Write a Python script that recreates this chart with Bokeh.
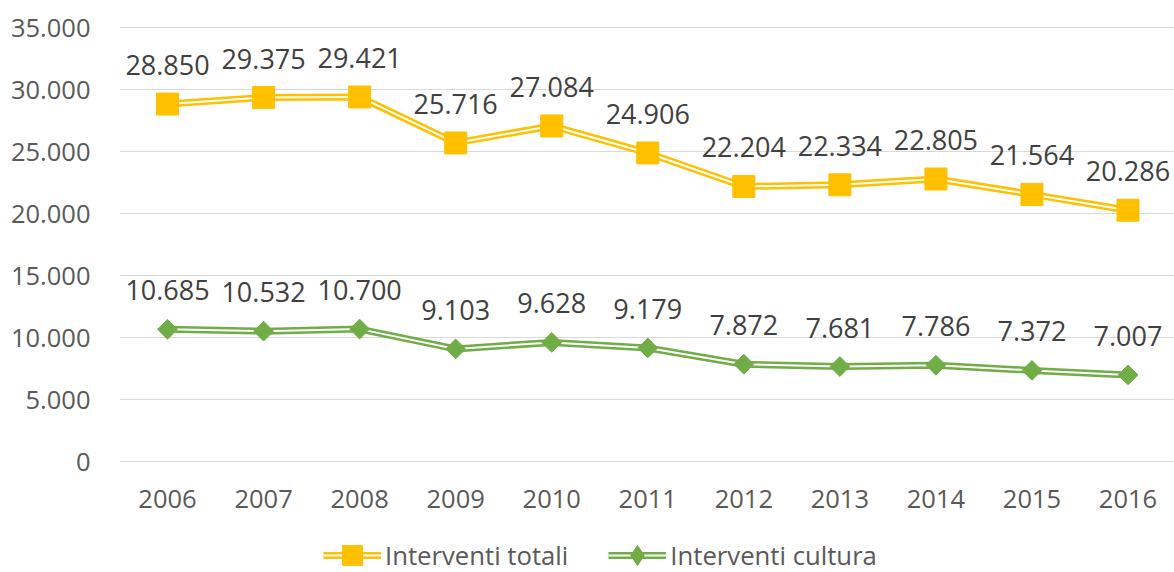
from bokeh.plotting import figure
from bokeh.models import ColumnDataSource, Legend, LegendItem, FixedTicker
from bokeh.core.properties import value
from bokeh.embed import file_html
from bokeh.resources import INLINE

years = [2006, 2007, 2008, 2009, 2010, 2011, 2012, 2013, 2014, 2015, 2016]
totali = [28850, 29375, 29421, 25716, 27084, 24906, 22204, 22334, 22805, 21564, 20286]
cultura = [10685, 10532, 10700, 9103, 9628, 9179, 7872, 7681, 7786, 7372, 7007]
y_ticks = [0, 5000, 10000, 15000, 20000, 25000, 30000, 35000]
name_totali = "Interventi totali"
name_cultura = "Interventi cultura"

def fmt(v):
    return f"{v:,}".replace(",", ".")

FONT = "Open Sans"
TICK_COLOR = "#595959"
LABEL_COLOR = "#404040"
YELLOW = "#FFC000"
GREEN = "#70AD47"

p = figure(frame_width=1055, frame_height=555, output_backend="svg", toolbar_location=None,
           x_range=(2005.5, 2016.484), y_range=(-8928, 35830),
           min_border_left=119, min_border_right=0, min_border_top=17, min_border_bottom=0)
p.outline_line_color = None
p.background_fill_color = "white"
p.border_fill_color = "white"

p.xgrid.grid_line_color = None
p.ygrid.grid_line_color = "#D9D9D9"
p.ygrid.grid_line_width = 1
p.ygrid.ticker = FixedTicker(ticks=y_ticks)

p.yaxis.ticker = FixedTicker(ticks=y_ticks)
p.yaxis.major_label_overrides = {t: fmt(t) for t in y_ticks}
p.xaxis.ticker = FixedTicker(ticks=years)
p.xaxis.major_label_overrides = {y: str(y) for y in years}
p.xaxis.fixed_location = -702
for ax in (p.xaxis, p.yaxis):
    ax.axis_line_color = None
    ax.major_tick_line_color = None
    ax.minor_tick_line_color = None
    ax.major_tick_out = 0
    ax.major_tick_in = 0
    ax.minor_tick_out = 0
    ax.major_label_text_font = FONT
    ax.major_label_text_font_size = "25.5px"
    ax.major_label_text_color = TICK_COLOR
p.yaxis.major_label_standoff = 29
p.xaxis.major_label_standoff = 20

src_t = ColumnDataSource(dict(x=years, y=totali, lab=[fmt(v) for v in totali]))
src_c = ColumnDataSource(dict(x=years, y=cultura, lab=[fmt(v) for v in cultura]))

t_outer = p.line("x", "y", source=src_t, line_color=YELLOW, line_width=7)
t_inner = p.line("x", "y", source=src_t, line_color="white", line_width=2)
t_mark = p.scatter("x", "y", source=src_t, marker="square", size=22,
                   fill_color=YELLOW, line_color=YELLOW)

c_outer = p.line("x", "y", source=src_c, line_color=GREEN, line_width=7)
c_inner = p.line("x", "y", source=src_c, line_color="white", line_width=2)
c_mark = p.scatter("x", "y", source=src_c, marker="square", size=14, angle=0.7854,
                   fill_color=GREEN, line_color=GREEN)
# zero-size diamond used only as the legend swatch (legend swatches ignore marker angle)
c_swatch = p.scatter("x", "y", source=src_c, marker="diamond", size=0,
                     fill_color=GREEN, line_color=GREEN)

for src in (src_t, src_c):
    p.text("x", "y", text="lab", source=src, text_align="center", text_baseline="middle",
           y_offset=-39, text_font=value(FONT), text_font_size="27px", text_color=LABEL_COLOR)

legend = Legend(items=[
    LegendItem(label=name_totali, renderers=[t_outer, t_inner, t_mark]),
    LegendItem(label=name_cultura, renderers=[c_outer, c_inner, c_swatch]),
], orientation="horizontal", location=(204, -8))
legend.label_text_font = FONT
legend.label_text_font_size = "25.7px"
legend.label_text_color = TICK_COLOR
legend.glyph_width = 58
legend.glyph_height = 50
legend.label_height = 24
legend.label_standoff = 4
legend.spacing = 40
legend.border_line_color = None
legend.background_fill_alpha = 0
legend.padding = 0
legend.margin = 0
p.add_layout(legend)

open("out.html", "w").write(file_html(p, INLINE))
